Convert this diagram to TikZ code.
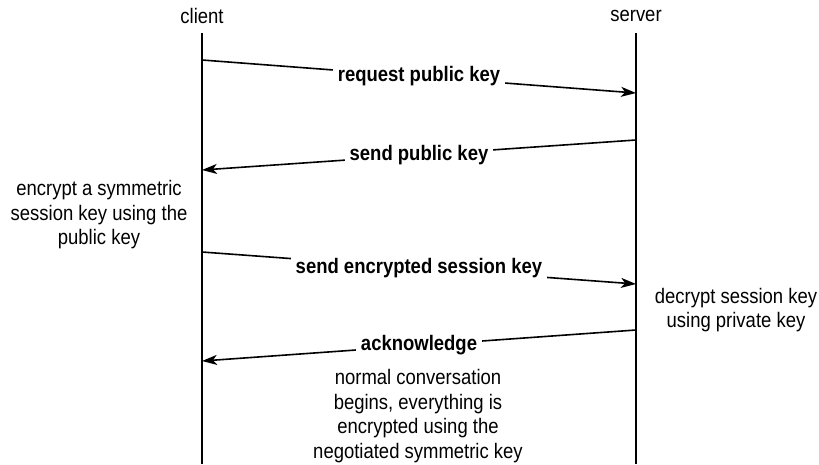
\documentclass[tikz,border=0pt]{standalone}
\usepackage{fontspec}
\setmainfont{Liberation Sans}[FakeStretch=0.88]
\usetikzlibrary{arrows.meta}
\begin{document}
\begin{tikzpicture}[x=1pt,y=-1pt,
  lifeline/.style={line width=1.6pt},
  msg/.style={line width=1.6pt,-{Stealth[length=15pt,width=10pt,inset=4pt]}},
  msglabel/.style={fill=white,inner xsep=5pt,inner ysep=2pt,font=\fontsize{21}{23}\selectfont\bfseries},
  party/.style={font=\fontsize{21}{23}\selectfont},
  note/.style={align=center,inner sep=0pt,font=\fontsize{21}{24.5}\selectfont}]
  \useasboundingbox (0,0) rectangle (819,464);
  % participants
  \node[party] (client) at (202,16) {client};
  \node[party] (server) at (636,16) {server};
  \coordinate (ctop) at (202,33);
  \coordinate (cbot) at (202,464);
  \coordinate (stop) at (636,33);
  \coordinate (sbot) at (636,464);
  \draw[lifeline] (ctop) -- (cbot);
  \draw[lifeline] (stop) -- (sbot);
  % message end points on the lifelines
  \coordinate (c1) at (202,60);
  \coordinate (s1) at (636,93);
  \coordinate (s2) at (636,140);
  \coordinate (c2) at (202,170);
  \coordinate (c3) at (202,252);
  \coordinate (s3) at (636,284);
  \coordinate (s4) at (636,330);
  \coordinate (c4) at (202,361);
  % messages
  \draw[msg] (c1) -- node[msglabel] (m1) {request public key} (s1);
  \draw[msg] (s2) -- node[msglabel] (m2) {send public key} (c2);
  \draw[msg] (c3) -- node[msglabel] (m3) {send encrypted session key} (s3);
  \draw[msg] (s4) -- node[msglabel] (m4) {acknowledge} (c4);
  % side notes
  \node[note] (encnote) at (99,215) {encrypt a symmetric\\session key using the\\public key};
  \node[note] (decnote) at (736,310) {decrypt session key\\using private key};
  \node[note] (convnote) at (418,416) {normal conversation\\begins, everything is\\encrypted using the\\negotiated symmetric key};
\end{tikzpicture}
\end{document}
